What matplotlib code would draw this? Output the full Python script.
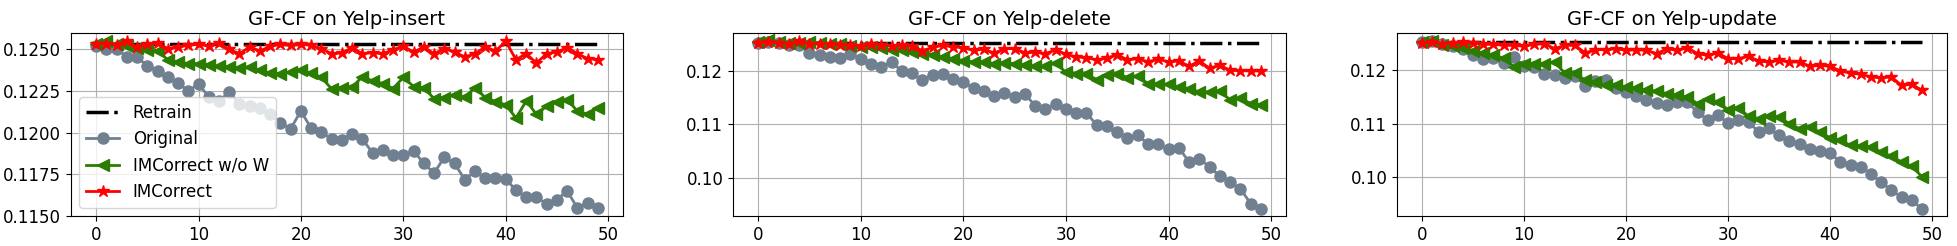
import matplotlib
matplotlib.use("Agg")
import matplotlib.pyplot as plt
from matplotlib.ticker import FormatStrFormatter, FixedLocator

steps = list(range(50))

titles = ["GF-CF on Yelp-insert", "GF-CF on Yelp-delete", "GF-CF on Yelp-update"]
labels = ["Retrain", "Original", "IMCorrect w/o W", "IMCorrect"]

retrain_values = [0.1253, 0.1252, 0.1253]

insert_orig = [0.12522, 0.12502, 0.12502, 0.12456, 0.12452, 0.12402, 0.1237, 0.12332, 0.12296, 0.12252,
               0.1229, 0.12216, 0.1219, 0.12244, 0.1217, 0.1216, 0.12146, 0.12112, 0.12056, 0.12024,
               0.1213, 0.12026, 0.12004, 0.1196, 0.11955, 0.1199, 0.1196, 0.1188, 0.11898, 0.11867,
               0.11867, 0.1189, 0.11816, 0.11757, 0.11852, 0.11816, 0.11718, 0.11768, 0.1173, 0.1173,
               0.1172, 0.11656, 0.11612, 0.11616, 0.1157, 0.11598, 0.1165, 0.11548, 0.1158, 0.11546]
insert_wo = [0.12534, 0.12548, 0.1253, 0.12522, 0.12508, 0.12496, 0.1249, 0.12438, 0.12424, 0.12414,
             0.12414, 0.12408, 0.12398, 0.12394, 0.1239, 0.12394, 0.12374, 0.12358, 0.12354, 0.12364,
             0.12378, 0.12356, 0.12332, 0.12262, 0.1227, 0.12272, 0.12337, 0.1231, 0.12295, 0.12265,
             0.12332, 0.12277, 0.12268, 0.12205, 0.1221, 0.12225, 0.12213, 0.1227, 0.12211, 0.12187,
             0.12167, 0.12088, 0.1219, 0.1211, 0.12159, 0.12187, 0.12198, 0.1213, 0.1211, 0.1215]
insert_imc = [0.12534, 0.12534, 0.12528, 0.12548, 0.12514, 0.1253, 0.12538, 0.12504, 0.12514, 0.12524,
              0.1253, 0.1252, 0.1254, 0.1250, 0.12474, 0.12514, 0.1249, 0.12518, 0.1253, 0.12524,
              0.1253, 0.12524, 0.12504, 0.12474, 0.12478, 0.1251, 0.12474, 0.1248, 0.12474, 0.12498,
              0.12518, 0.12484, 0.12514, 0.12474, 0.12504, 0.12484, 0.12454, 0.12474, 0.12514, 0.1249,
              0.12548, 0.12438, 0.12474, 0.12418, 0.12474, 0.12484, 0.1251, 0.12474, 0.12444, 0.12438]

delete_orig = [0.1251, 0.1254, 0.1251, 0.1248, 0.1247, 0.12335, 0.123, 0.12255, 0.12237, 0.1231,
               0.12215, 0.1213, 0.12075, 0.12156, 0.11994, 0.1195, 0.11825, 0.11922, 0.11935, 0.1185,
               0.11782, 0.11673, 0.11626, 0.11533, 0.11583, 0.11498, 0.11564, 0.11343, 0.11287, 0.11377,
               0.11274, 0.11212, 0.11205, 0.10985, 0.10956, 0.10854, 0.10748, 0.10791, 0.1063, 0.1062,
               0.10527, 0.10558, 0.10293, 0.10355, 0.102, 0.10028, 0.09913, 0.09795, 0.09514, 0.09421]
delete_wo = [0.12536, 0.12567, 0.12536, 0.12517, 0.12517, 0.12536, 0.12517, 0.12505, 0.12492, 0.12461,
             0.12442, 0.12442, 0.1243, 0.12392, 0.1238, 0.12355, 0.12318, 0.12296, 0.12255, 0.12224,
             0.12187, 0.12162, 0.12162, 0.12131, 0.12137, 0.12131, 0.121, 0.12081, 0.12081, 0.12143,
             0.11965, 0.11944, 0.11935, 0.11832, 0.11913, 0.11944, 0.11869, 0.11894, 0.11757, 0.11745,
             0.11745, 0.11695, 0.11664, 0.11601, 0.11601, 0.1162, 0.11452, 0.11489, 0.11383, 0.11352]
delete_imc = [0.12517, 0.12536, 0.12517, 0.12505, 0.12545, 0.12505, 0.12505, 0.12505, 0.12486, 0.12473,
              0.12455, 0.12492, 0.12486, 0.12461, 0.12473, 0.12461, 0.12374, 0.12432, 0.12473, 0.12442,
              0.1243, 0.12376, 0.12405, 0.12324, 0.12411, 0.12411, 0.12333, 0.12343, 0.12318, 0.12386,
              0.12305, 0.12255, 0.12243, 0.122, 0.12233, 0.12296, 0.122, 0.12224, 0.12162, 0.12215,
              0.12162, 0.12181, 0.12081, 0.12181, 0.12043, 0.121, 0.12006, 0.12, 0.11994, 0.11994]

update_orig = [0.12526, 0.12557, 0.12488, 0.12455, 0.12399, 0.12296, 0.12215, 0.12231, 0.12137, 0.12246,
               0.12072, 0.12056, 0.11935, 0.11919, 0.1185, 0.119, 0.11708, 0.11795, 0.11822, 0.11673,
               0.11598, 0.11511, 0.11449, 0.11398, 0.11358, 0.11405, 0.11405, 0.11218, 0.11075, 0.11162,
               0.11012, 0.11068, 0.11035, 0.10844, 0.10913, 0.10782, 0.10688, 0.10614, 0.10524, 0.10489,
               0.10452, 0.10284, 0.10228, 0.102, 0.10059, 0.0991, 0.0976, 0.09627, 0.09567, 0.09411]
update_wo = [0.12526, 0.12557, 0.12474, 0.12455, 0.1242, 0.1237, 0.12324, 0.12287, 0.12225, 0.12069,
             0.12125, 0.12125, 0.12125, 0.12153, 0.11947, 0.1195, 0.11813, 0.11782, 0.1172, 0.1172,
             0.11688, 0.11676, 0.11626, 0.11614, 0.11564, 0.11533, 0.11502, 0.11377, 0.1147, 0.11408,
             0.11265, 0.11302, 0.1114, 0.11097, 0.1114, 0.11128, 0.11003, 0.1091, 0.10941, 0.10847,
             0.10735, 0.10692, 0.10598, 0.1058, 0.10567, 0.10474, 0.10393, 0.10287, 0.10206, 0.1001]
update_imc = [0.12511, 0.1253, 0.12498, 0.12511, 0.1253, 0.12511, 0.12486, 0.12486, 0.12467, 0.12467,
              0.12449, 0.12486, 0.12498, 0.12405, 0.12467, 0.12467, 0.12324, 0.12386, 0.12386, 0.12405,
              0.12374, 0.12386, 0.12374, 0.12312, 0.12405, 0.12374, 0.12424, 0.12312, 0.1228, 0.12324,
              0.12218, 0.12218, 0.12262, 0.12174, 0.12156, 0.12187, 0.12156, 0.12156, 0.12075, 0.12093,
              0.12075, 0.11988, 0.1195, 0.11925, 0.11875, 0.11863, 0.11875, 0.1172, 0.11738, 0.11626]

series = [(insert_orig, insert_wo, insert_imc),
          (delete_orig, delete_wo, delete_imc),
          (update_orig, update_wo, update_imc)]

ylims = [(0.1150, 0.12598), (0.09282, 0.12703), (0.09277, 0.12698)]
yticks = [[0.1150, 0.1175, 0.1200, 0.1225, 0.1250], [0.10, 0.11, 0.12], [0.10, 0.11, 0.12]]
yfmts = ['%.4f', '%.2f', '%.2f']

W, H = 1958, 246
fig = plt.figure(figsize=(W / 100, H / 100), dpi=100)
lefts = [71, 733, 1397]
widths = [552, 553, 550]
top_px, bot_px = 33, 216

c_orig = '#708090'
c_wo = '#2a7d00'
c_imc = '#ff0000'

for k in range(3):
    ax = fig.add_axes([lefts[k] / W, 1 - bot_px / H, widths[k] / W, (bot_px - top_px) / H])
    orig, wo, imc = series[k]
    ax.plot(steps, [retrain_values[k]] * len(steps), color='black', linestyle='-.', linewidth=2.5,
            label=labels[0])
    ax.plot(steps, orig, color=c_orig, marker='o', markersize=8, linewidth=2, label=labels[1])
    ax.plot(steps, wo, color=c_wo, marker='<', markersize=9, linewidth=2, label=labels[2])
    ax.plot(steps, imc, color=c_imc, marker='*', markersize=9, linewidth=2, label=labels[3])
    ax.set_ylim(*ylims[k])
    ax.yaxis.set_major_locator(FixedLocator(yticks[k]))
    ax.yaxis.set_major_formatter(FormatStrFormatter(yfmts[k]))
    ax.set_xticks([0, 10, 20, 30, 40, 50])
    ax.tick_params(labelsize=12)
    ax.grid(True)
    ax.set_title(titles[k], fontsize=14)
    if k == 0:
        ax.legend(loc='lower left', fontsize=12)

fig.savefig('out.png', dpi=100)
